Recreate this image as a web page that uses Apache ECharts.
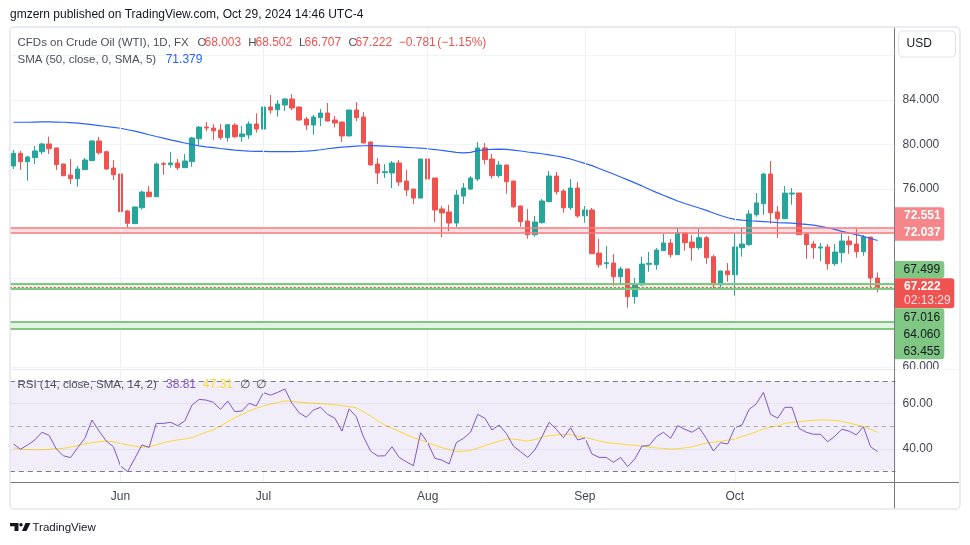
<!DOCTYPE html>
<html>
<head>
<meta charset="utf-8">
<script src="https://cdn.jsdelivr.net/npm/echarts/dist/echarts.min.js"></script>
<style>
html,body{margin:0;padding:0;background:#ffffff;}
#c{width:970px;height:545px;}
</style>
</head>
<body>
<div id="c"></div>
<script>
const FONT = "'Liberation Sans', Arial, sans-serif";

// ---- categories (daily bars) ----
const dates = [
'2024-05-13','2024-05-14','2024-05-15','2024-05-16','2024-05-17','2024-05-20','2024-05-21','2024-05-22','2024-05-23','2024-05-24','2024-05-27','2024-05-28','2024-05-29','2024-05-30','2024-05-31',
'2024-06-03','2024-06-04','2024-06-05','2024-06-06','2024-06-07','2024-06-10','2024-06-11','2024-06-12','2024-06-13','2024-06-14','2024-06-17','2024-06-18','2024-06-19','2024-06-20','2024-06-21','2024-06-24','2024-06-25','2024-06-26','2024-06-27','2024-06-28',
'2024-07-01','2024-07-02','2024-07-03','2024-07-04','2024-07-05','2024-07-08','2024-07-09','2024-07-10','2024-07-11','2024-07-12','2024-07-15','2024-07-16','2024-07-17','2024-07-18','2024-07-19','2024-07-22','2024-07-23','2024-07-24','2024-07-25','2024-07-26','2024-07-29','2024-07-30','2024-07-31',
'2024-08-01','2024-08-02','2024-08-05','2024-08-06','2024-08-07','2024-08-08','2024-08-09','2024-08-12','2024-08-13','2024-08-14','2024-08-15','2024-08-16','2024-08-19','2024-08-20','2024-08-21','2024-08-22','2024-08-23','2024-08-26','2024-08-27','2024-08-28','2024-08-29','2024-08-30',
'2024-09-02','2024-09-03','2024-09-04','2024-09-05','2024-09-06','2024-09-09','2024-09-10','2024-09-11','2024-09-12','2024-09-13','2024-09-16','2024-09-17','2024-09-18','2024-09-19','2024-09-20','2024-09-23','2024-09-24','2024-09-25','2024-09-26','2024-09-27','2024-09-30',
'2024-10-01','2024-10-02','2024-10-03','2024-10-04','2024-10-07','2024-10-08','2024-10-09','2024-10-10','2024-10-11','2024-10-14','2024-10-15','2024-10-16','2024-10-17','2024-10-18','2024-10-21','2024-10-22','2024-10-23','2024-10-24','2024-10-25','2024-10-28','2024-10-29'
];
const padCategories = ['pad-1','pad-2'];
const monthStarts = ['2024-06-03','2024-07-01','2024-08-01','2024-09-02','2024-10-01'];
const monthNames = ['Jun','Jul','Aug','Sep','Oct'];

// ---- OHLC ----
const opens = [78.07,79.21,78.46,78.82,79.35,80.05,79.69,78.25,77.26,76.93,77.74,78.55,80.32,79.35,77.89,
77.35,74.03,72.89,74.32,75.73,75.31,78.28,78.19,78.34,77.92,78.46,80.52,81.57,81.48,81.30,80.61,81.75,80.70,80.86,81.84,
81.39,83.37,83.13,83.55,84.09,83.37,82.29,81.75,82.41,82.83,82.20,82.02,80.77,83.10,82.47,80.23,78.25,77.47,77.44,78.34,76.72,76.00,75.19,
78.70,76.99,74.21,73.94,72.95,75.37,76.00,76.90,79.69,78.70,77.20,78.16,76.72,74.48,73.13,71.90,72.98,74.86,77.17,75.82,74.32,76.09,
73.60,74.12,70.25,69.29,69.35,68.12,68.82,66.33,67.40,69.24,69.20,70.46,71.15,70.10,72.05,71.24,70.73,71.63,69.92,67.40,68.64,
68.30,70.73,71.00,73.69,74.68,77.35,73.94,73.33,75.55,75.64,71.96,71.06,70.70,70.79,69.29,70.28,71.33,71.06,70.37,71.69,68.003];
const highs = [79.51,79.42,78.97,79.87,80.16,80.70,79.72,78.28,78.70,78.07,78.79,80.35,80.68,79.44,78.61,
77.53,74.12,74.42,75.85,76.27,78.37,78.43,79.33,78.70,79.15,80.70,81.66,82.02,81.82,81.84,81.84,81.91,81.66,82.09,82.80,
83.64,84.45,84.00,84.18,84.54,83.40,82.47,82.65,83.19,83.73,82.56,82.05,83.13,83.82,82.92,80.25,78.79,78.25,78.52,78.61,77.71,76.02,78.72,
78.88,77.00,74.48,74.57,75.91,76.54,77.17,80.23,80.14,79.15,78.52,78.18,76.74,74.50,74.21,73.58,75.10,77.62,77.53,76.00,76.90,76.63,
74.48,74.30,71.51,70.88,70.16,69.02,68.84,68.01,69.92,70.34,70.70,71.96,71.51,72.50,72.07,71.87,72.44,71.78,70.10,68.66,69.35,
71.99,72.53,74.12,75.64,77.44,78.52,74.48,76.27,76.09,75.66,72.14,71.33,71.15,71.06,71.06,72.05,71.78,72.41,71.87,71.71,68.502];
const lows = [77.80,77.71,76.75,78.25,79.12,79.15,77.71,77.15,76.45,76.21,77.72,78.52,79.09,77.71,76.81,
73.94,72.56,72.86,74.15,75.29,75.29,77.29,77.92,77.71,77.90,78.01,79.96,81.19,80.41,80.41,80.25,80.61,80.25,80.50,81.07,
81.37,82.77,82.50,83.01,83.10,82.14,81.30,80.88,81.66,82.09,81.55,80.23,80.74,82.11,80.12,78.14,76.45,76.99,76.09,76.27,75.37,74.66,75.17,
76.27,73.04,71.69,72.23,72.59,74.66,75.91,76.72,78.19,76.93,77.02,75.58,74.27,72.62,71.54,71.72,72.89,74.84,75.49,73.87,74.14,73.42,
72.98,70.17,68.93,68.84,67.31,67.38,65.34,65.70,67.31,68.57,68.75,70.44,69.83,70.08,70.46,69.56,70.55,69.29,67.05,67.14,67.67,
66.42,69.92,70.91,73.51,73.69,72.89,71.63,73.31,74.59,71.88,69.74,69.74,69.51,68.75,69.11,69.38,70.19,69.83,70.01,66.96,66.707];
const closes = [79.21,78.46,78.88,79.42,80.05,79.62,78.19,77.20,76.93,77.80,78.61,80.32,79.26,77.80,77.29,
73.96,72.92,74.39,75.73,75.31,78.25,78.22,78.34,77.92,78.52,80.59,81.57,81.48,81.24,80.61,81.78,80.70,80.95,81.84,81.39,
83.37,83.10,83.64,84.09,83.28,82.20,81.75,82.47,82.83,82.11,81.93,80.77,83.10,82.41,80.14,78.16,77.44,77.56,78.34,76.63,75.91,75.19,78.70,
76.90,74.12,73.85,72.95,75.46,76.09,76.99,79.69,78.64,77.20,78.16,76.66,74.41,73.07,71.90,73.04,74.93,77.17,75.76,74.32,76.09,73.58,
74.12,70.19,69.20,69.38,68.12,68.82,66.33,67.47,69.26,69.33,70.52,71.15,70.10,72.05,71.18,70.73,71.63,69.83,67.40,68.64,68.30,
70.79,71.06,73.76,74.75,77.35,73.87,73.33,75.64,75.64,71.90,71.00,70.73,70.79,69.29,70.34,71.33,71.00,70.37,71.69,68.003,67.222];

// ---- SMA (50, close, smoothed SMA 5) ----
const sma50 = [82.00,82.00,82.00,82.02,82.03,82.03,82.02,82.00,81.97,81.92,81.85,81.78,81.70,81.62,81.54,
81.46,81.33,81.20,81.05,80.88,80.72,80.57,80.42,80.28,80.14,80.00,79.88,79.79,79.72,79.64,79.57,79.50,79.45,79.41,79.39,
79.38,79.37,79.37,79.37,79.37,79.38,79.40,79.46,79.53,79.62,79.70,79.76,79.81,79.86,79.89,79.90,79.88,79.85,79.82,79.79,79.75,79.71,79.67,
79.62,79.55,79.47,79.38,79.30,79.25,79.30,79.45,79.53,79.57,79.58,79.56,79.50,79.42,79.33,79.25,79.17,79.07,78.97,78.85,78.70,78.50,
78.30,78.10,77.85,77.60,77.35,77.08,76.82,76.55,76.28,75.98,75.70,75.44,75.18,74.93,74.70,74.50,74.30,74.08,73.85,73.62,73.42,
73.28,73.20,73.15,73.12,73.08,73.04,72.99,72.96,72.93,72.87,72.82,72.75,72.65,72.52,72.37,72.20,72.05,71.90,71.74,71.56,71.379];

// ---- RSI (14) and its SMA (14) ----
const rsi = [42.2,39.9,41.8,44.0,47.4,46.0,40.0,37.0,36.2,40.6,44.7,52.8,47.9,43.5,41.0,
32.5,30.0,35.9,41.8,40.7,51.3,51.3,51.8,50.3,52.4,59.4,61.9,61.6,60.6,57.5,61.2,56.5,56.8,60.2,59.0,
64.9,63.8,65.0,66.5,60.2,56.0,54.0,57.2,58.4,55.3,53.6,47.9,57.7,54.3,45.4,39.1,36.9,37.0,41.0,36.3,34.4,32.6,47.2,
42.8,35.9,35.1,33.4,42.8,44.7,47.4,55.3,53.6,48.4,50.6,46.9,41.3,38.8,36.3,39.6,45.4,51.8,48.7,45.0,49.4,44.0,
44.9,37.8,36.3,36.3,34.1,36.3,32.2,35.6,41.3,41.5,45.4,47.4,44.7,50.3,48.7,47.4,49.4,44.7,39.1,42.8,42.2,
49.4,50.6,57.5,59.9,65.0,55.3,53.6,58.4,58.4,49.1,47.4,46.5,46.5,43.2,45.7,48.7,47.9,46.2,49.8,41.0,38.81];
const rsiSma = [40.5,40.0,39.7,39.6,39.7,39.9,40.1,40.3,40.8,41.5,42.2,42.8,43.2,43.5,43.2,
42.5,41.8,41.2,40.7,41.0,41.8,42.8,43.5,44.0,44.4,45.0,46.2,47.5,48.5,50.2,52.0,53.8,55.3,56.8,58.0,
59.0,59.8,60.5,61.2,61.0,60.7,60.4,60.2,60.0,59.8,59.5,59.1,58.7,58.2,56.5,54.5,52.5,50.6,49.2,47.8,46.4,45.0,44.0,
42.8,41.6,40.6,39.8,38.9,39.0,39.3,40.4,41.5,42.5,43.5,44.3,44.4,44.0,43.5,44.2,45.2,45.9,46.2,46.4,46.5,45.7,
45.1,44.4,43.5,42.9,42.5,42.2,41.9,41.6,41.2,40.8,40.5,40.2,40.0,40.1,40.5,41.0,41.8,42.6,43.0,43.4,43.9,
44.4,45.5,46.5,47.6,48.8,49.7,50.2,51.3,51.8,52.0,52.4,52.7,52.8,52.8,52.6,52.2,51.5,50.7,49.9,48.7,47.31];

// ---- horizontal levels ----
const resistance = [72.551, 72.037];
const supportHigh = [67.499, 67.016];
const supportLow = [64.060, 63.455];
const lastPrice = 67.222;
const countdown = '02:13:29';
const priceTicks = [60, 76, 80, 84];
const rsiTicks = [40, 60];
const rsiBands = [70, 50, 30];

const chart = echarts.init(document.getElementById('c'), null, {renderer: 'canvas', width: 970, height: 545});
const cats = dates.concat(padCategories);
const candleData = dates.map((d, i) => [opens[i], closes[i], lows[i], highs[i]]);
const hline = (v, color, width, type) => ({yAxis: v, lineStyle: {color: color, width: width, type: type}});
const vline = (d) => ({xAxis: d, lineStyle: {color: '#eef0f5', width: 1, type: 'solid'}});

const GL = 9.83, GW = 885.73;
const option = {
  animation: false,
  backgroundColor: '#ffffff',
  grid: [
    {left: GL, width: GW, top: 27, height: 340.12, containLabel: false},
    {left: GL, width: GW, top: 369.73, height: 113.24, containLabel: false}
  ],
  xAxis: [
    {type: 'category', gridIndex: 0, data: cats, boundaryGap: true,
     axisLine: {show: false}, axisTick: {show: false}, axisLabel: {show: false}, splitLine: {show: false}},
    {type: 'category', gridIndex: 1, data: cats, boundaryGap: true,
     axisLine: {show: false}, axisTick: {show: false}, splitLine: {show: false},
     axisLabel: {show: true, interval: (i, v) => monthStarts.indexOf(v) >= 0,
       formatter: v => (monthStarts.indexOf(v) >= 0 ? monthNames[monthStarts.indexOf(v)] : ''),
       color: '#434651', fontSize: 12, fontFamily: FONT, margin: 8}}
  ],
  yAxis: [
    {type: 'value', gridIndex: 0, position: 'right', min: 60, max: 90.559, interval: 4, scale: false,
     axisLine: {show: false}, axisTick: {show: false},
     axisLabel: {color: '#434651', fontSize: 12, fontFamily: FONT, margin: 7, showMaxLabel: false,
       formatter: v => (priceTicks.indexOf(v) >= 0 ? v.toFixed(3) : '')},
     splitLine: {show: true, lineStyle: {color: '#f0f3fa', width: 1}}},
    {type: 'value', gridIndex: 1, position: 'right', min: 25, max: 75, interval: 5,
     axisLine: {show: false}, axisTick: {show: false},
     axisLabel: {color: '#434651', fontSize: 12, fontFamily: FONT, margin: 7,
       formatter: v => (rsiTicks.indexOf(v) >= 0 ? v.toFixed(2) : '')},
     splitLine: {show: false}}
  ],
  series: [
    {name: 'levels', type: 'line', xAxisIndex: 0, yAxisIndex: 0, data: [], z: 1, silent: true,
     markArea: {silent: true, data: [
       [{yAxis: resistance[1], itemStyle: {color: 'rgba(242,54,69,0.16)'}}, {yAxis: resistance[0]}],
       [{yAxis: supportHigh[1], itemStyle: {color: 'rgba(76,175,80,0.16)'}}, {yAxis: supportHigh[0]}],
       [{yAxis: supportLow[1], itemStyle: {color: 'rgba(76,175,80,0.16)'}}, {yAxis: supportLow[0]}]
     ]},
     markLine: {silent: true, symbol: ['none', 'none'], label: {show: false}, animation: false,
       data: monthStarts.map(vline).concat([
         hline(resistance[0], '#f77c80', 1.5, 'solid'),
         hline(resistance[1], '#f77c80', 1.5, 'solid'),
         hline(supportHigh[0], '#81c784', 2, 'solid'),
         hline(supportHigh[1], '#81c784', 2, 'solid'),
         hline(supportLow[0], '#81c784', 2, 'solid'),
         hline(supportLow[1], '#81c784', 2, 'solid'),
         hline(lastPrice, '#ef5350', 1, [2, 2])
       ])}
    },
    {name: 'candles', type: 'candlestick', xAxisIndex: 0, yAxisIndex: 0, data: candleData, barWidth: 5, z: 2,
     itemStyle: {color: '#26a69a', color0: '#ef5350', borderColor: '#26a69a', borderColor0: '#ef5350', borderWidth: 1}},
    {name: 'SMA', type: 'line', xAxisIndex: 0, yAxisIndex: 0, data: sma50, showSymbol: false, symbol: 'none', z: 3,
     lineStyle: {color: '#2962ff', width: 1.2}},
    {name: 'rsiLevels', type: 'line', xAxisIndex: 1, yAxisIndex: 1, data: [], z: 1, silent: true,
     markArea: {silent: true, data: [[{yAxis: 30, itemStyle: {color: 'rgba(126,87,194,0.1)'}}, {yAxis: 70}]]},
     markLine: {silent: true, symbol: ['none', 'none'], label: {show: false}, animation: false,
       data: monthStarts.map(vline).concat([
         hline(rsiTicks[1], 'rgba(126,87,194,0.10)', 1, 'solid'),
         hline(rsiTicks[0], 'rgba(126,87,194,0.10)', 1, 'solid'),
         hline(rsiBands[0], '#787b86', 1, [5, 4]),
         hline(rsiBands[1], 'rgba(120,123,134,0.6)', 1, [4, 4]),
         hline(rsiBands[2], '#787b86', 1, [5, 4])
       ])}
    },
    {name: 'RSI', type: 'line', xAxisIndex: 1, yAxisIndex: 1, data: rsi, showSymbol: false, symbol: 'none', z: 3,
     lineStyle: {color: '#7e57c2', width: 1}},
    {name: 'RSI SMA', type: 'line', xAxisIndex: 1, yAxisIndex: 1, data: rsiSma, showSymbol: false, symbol: 'none', z: 2,
     lineStyle: {color: '#fdd835', width: 1}}
  ]
};
chart.setOption(option);

function txt(t, x, y, fill, size, weight, align) {
  return {type: 'text', x: x, y: y, z: 110, silent: true,
    style: {text: t, fill: fill, font: (weight || 'normal') + ' ' + (size || 12) + 'px ' + FONT,
      textAlign: align || 'left', textVerticalAlign: 'middle', align: align || 'left', verticalAlign: 'middle'}};
}
function box(x, y, w, h, fill, r) {
  return {type: 'rect', z: 100, silent: true, shape: {x: x, y: y, width: w, height: h, r: r || 0}, style: {fill: fill}};
}
function line(x1, y1, x2, y2, stroke, w) {
  return {type: 'line', z: 95, silent: true, shape: {x1: x1, y1: y1, x2: x2, y2: y2}, style: {stroke: stroke, lineWidth: w || 1}};
}

const gray = '#4c4f59', red = '#ef5350';
const LS = 11.5;
const g = [];
// frame and pane chrome
g.push(box(895.5, 369.5, 63, 12, '#ffffff'));
g.push(line(10, 369.5, 959, 369.5, '#e6e9f0', 1));
g.push(line(10, 482.5, 959, 482.5, '#787b86', 1));
g.push(line(894.5, 27, 894.5, 509, '#787b86', 1));
g.push({type: 'rect', z: 96, silent: true, shape: {x: 10, y: 27, width: 950, height: 482, r: 4},
  style: {fill: 'none', stroke: '#e3e6ee', lineWidth: 1.5}});
// USD button
g.push({type: 'rect', z: 100, silent: true, shape: {x: 898.5, y: 31, width: 57, height: 26, r: 4},
  style: {fill: '#ffffff', stroke: '#e0e3eb', lineWidth: 1}});
g.push(txt('USD', 906.5, 44, '#131722', 12));
// header
g.push(txt('gmzern published on TradingView.com, Oct 29, 2024 14:46 UTC-4', 10, 15, '#131722', 12));
g.push(txt('CFDs on Crude Oil (WTI), 1D, FX', 17.5, 42.5, gray, LS));
g.push(txt('O', 197.5, 42.5, gray, LS)); g.push(txt(opens[opens.length - 1].toFixed(3), 204.5, 42.5, red, 12));
g.push(txt('H', 248.3, 42.5, gray, LS)); g.push(txt(highs[highs.length - 1].toFixed(3), 255.5, 42.5, red, 12));
g.push(txt('L', 299, 42.5, gray, LS)); g.push(txt(lows[lows.length - 1].toFixed(3), 304.5, 42.5, red, 12));
g.push(txt('C', 348.5, 42.5, gray, LS)); g.push(txt(closes[closes.length - 1].toFixed(3), 355.5, 42.5, red, 12));
g.push(txt('\u22120.781', 398.7, 42.5, red, 12));
g.push(txt('(\u22121.15%)', 437.3, 42.5, red, 12));
g.push(txt('SMA (50, close, 0, SMA, 5)', 17.5, 59.5, gray, LS));
g.push(txt(sma50[sma50.length - 1].toFixed(3), 165.7, 59.5, '#2962ff', 12));
g.push(txt('RSI (14, close, SMA, 14, 2)', 17.5, 384.5, gray, LS));
g.push(txt(rsi[rsi.length - 1].toFixed(2), 166, 384.5, '#7e57c2', 12));
g.push(txt(rsiSma[rsiSma.length - 1].toFixed(2), 203, 384.5, '#fdd835', 12));
g.push(txt('\u2205', 240, 384.5, gray, 12));
g.push(txt('\u2205', 256, 384.5, gray, 12));
// logo
g.push({type: 'polygon', z: 100, silent: true, shape: {points: [[10, 523], [18.5, 523], [18.5, 531], [14.5, 531], [14.5, 526.3], [10, 526.3]]}, style: {fill: '#131722'}});
g.push({type: 'circle', z: 100, silent: true, shape: {cx: 21, cy: 524.7, r: 1.7}, style: {fill: '#131722'}});
g.push({type: 'polygon', z: 100, silent: true, shape: {points: [[25.5, 523], [30.5, 523], [26.5, 531], [22, 531]]}, style: {fill: '#131722'}});
g.push(txt('TradingView', 32.5, 527.5, '#131722', 11.5));

// price badges on the axis, anchored to their values
const py = v => chart.convertToPixel({yAxisIndex: 0}, v);
const a = py(resistance[0]);
const c = py(lastPrice);
g.push(box(895, a - 20.1, 49.3, 33.4, '#f7868b', [0, 3, 3, 0]));
g.push(txt(resistance[0].toFixed(3), 904, a - 11.7, '#ffffff', 12, 'bold'));
g.push(txt(resistance[1].toFixed(3), 904, a + 4.9, '#ffffff', 12, 'bold'));
g.push(box(895, c - 25.7, 49.3, 17.3, '#81c784', [0, 3, 3, 0]));
g.push(txt(supportHigh[0].toFixed(3), 903.5, c - 17.2, '#131722', 12));
g.push(box(895, c - 8.4, 59.3, 30, '#ef5350', [0, 3, 3, 0]));
g.push(txt(lastPrice.toFixed(3), 904, c, '#ffffff', 12, 'bold'));
g.push(txt(countdown, 904, c + 14, '#fde3e3', 12));
g.push(box(895, c + 21.6, 49.3, 51, '#81c784', [0, 3, 3, 0]));
g.push(txt(supportHigh[1].toFixed(3), 903.5, c + 30.6, '#131722', 12));
g.push(txt(supportLow[0].toFixed(3), 903.5, c + 48.3, '#131722', 12));
g.push(txt(supportLow[1].toFixed(3), 903.5, c + 65, '#131722', 12));

chart.setOption({graphic: {elements: g}});
</script>
</body>
</html>
